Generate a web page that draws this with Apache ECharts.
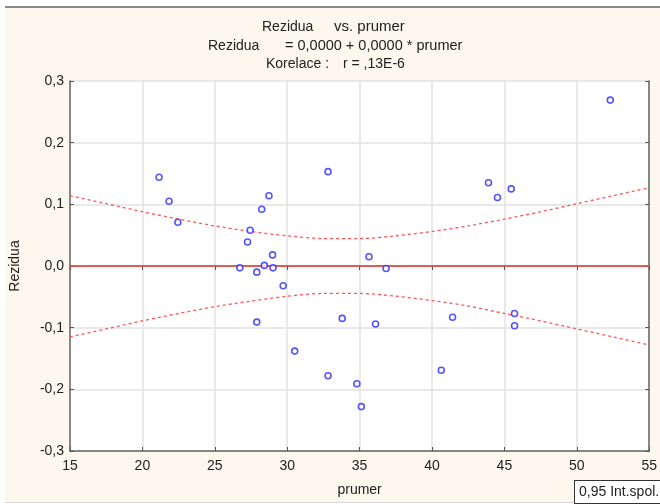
<!DOCTYPE html>
<html><head><meta charset="utf-8">
<script src="https://cdn.jsdelivr.net/npm/echarts@6/dist/echarts.min.js"></script>
<style>html,body{margin:0;padding:0;background:#fff}#c{width:660px;height:504px}</style>
</head><body><div id="c"></div>
<script>
// Scatter points (prumer, Rezidua)
const prumer = [21.15, 21.84, 22.45, 26.73, 27.26, 27.44, 27.90, 27.90, 28.24, 28.42, 28.74, 28.99, 29.02, 29.72, 30.52,
  32.82, 35.65, 36.83, 33.80, 36.10, 32.82, 34.81, 35.12, 40.64, 41.42, 43.90, 44.52, 45.47, 45.70, 45.70, 52.31];
const rezidua = [0.144, 0.105, 0.071, -0.003, 0.039, 0.058, -0.010, -0.091, 0.092, 0.001, 0.114, 0.018, -0.003, -0.032, -0.138,
  0.153, 0.015, -0.004, -0.085, -0.094, -0.178, -0.191, -0.228, -0.169, -0.083, 0.135, 0.111, 0.125, -0.077, -0.097, 0.269];
// Regression line: Rezidua = 0,0000 + 0,0000 * prumer
const lineX = [15, 55];
const lineY = [0.0, 0.0];
// 0,95 confidence band
const bandX = [15, 17.5, 20, 22.5, 25, 27.5, 30, 32.5, 35, 37.5, 40, 42.5, 45, 47.5, 50, 52.5, 55];
const bandUpper = [0.114, 0.101, 0.088, 0.076, 0.065, 0.056, 0.049, 0.0445, 0.0445, 0.049, 0.056, 0.065, 0.076, 0.088, 0.101, 0.114, 0.127];
const bandLower = [-0.115, -0.102, -0.089, -0.077, -0.066, -0.057, -0.049, -0.0445, -0.0445, -0.049, -0.056, -0.065, -0.077, -0.089, -0.102, -0.115, -0.128];
// Axis ticks
const xTicks = [15, 20, 25, 30, 35, 40, 45, 50, 55];
const yTicks = [-0.3, -0.2, -0.1, 0.0, 0.1, 0.2, 0.3];

const FONT = '"Liberation Sans", Arial, sans-serif';
const fmtY = v => v.toFixed(1).replace('.', ',');
const zip = (a, b) => a.map((v, i) => [v, b[i]]);

const chart = echarts.init(document.getElementById('c'), null, {renderer: 'canvas'});
const txt = (x, y, s, size) => ({type: 'text', x: x, y: y, z: 10,
  style: {text: s, font: (size || 14) + 'px ' + FONT, fill: '#222', align: 'left', verticalAlign: 'middle'}});

chart.setOption({
  backgroundColor: '#fff',
  animation: false,
  grid: {left: 66, right: 9, top: 81, bottom: 53, show: true, backgroundColor: '#fff', borderWidth: 0},
  graphic: [
    {type: 'rect', shape: {x: 5, y: 7, width: 660, height: 495}, z: -10, silent: true,
      style: {fill: '#fdf8ee', stroke: null}},
    {type: 'rect', shape: {x: 5, y: 6, width: 660, height: 2}, z: -9, silent: true, style: {fill: '#8a8a8a'}},
    {type: 'rect', shape: {x: 5, y: 502, width: 660, height: 1}, z: -9, silent: true, style: {fill: '#d8d8d8'}},
    txt(262, 27, 'Rezidua'), txt(334, 27, 'vs. prumer', 15),
    txt(208, 46, 'Rezidua'), txt(285, 46, '= 0,0000 + 0,0000 * prumer', 14.5),
    txt(266, 64, 'Korelace :'), txt(343, 64, 'r = ,13E-6'),
    {type: 'text', x: 575, y: 481, z: 10,
      style: {text: '0,95 Int.spol.', font: '14px ' + FONT, fill: '#222',
        backgroundColor: '#fff', borderColor: '#333', borderWidth: 1, padding: [4, 5, 4, 4]}}
  ],
  xAxis: [{
    type: 'value', min: 15, max: 55, interval: 5,
    name: 'prumer', nameLocation: 'middle', nameGap: 32,
    nameTextStyle: {fontFamily: FONT, fontSize: 14, color: '#222'},
    axisLine: {show: true, onZero: false, lineStyle: {color: '#666', width: 1.5}},
    axisTick: {show: true, inside: true, length: 4, lineStyle: {color: '#555'}},
    axisLabel: {fontFamily: FONT, fontSize: 14, color: '#222', margin: 8,
      customValues: xTicks},
    splitLine: {show: true, lineStyle: {color: '#e2e2e2', width: 1.5}}
  }, {
    type: 'value', min: 15, max: 55, interval: 5, position: 'top',
    axisLine: {show: true, lineStyle: {color: '#666', width: 1.5}},
    axisTick: {show: true, inside: true, length: 4, lineStyle: {color: '#555'}},
    axisLabel: {show: false}, splitLine: {show: false}
  }],
  yAxis: [{
    type: 'value', min: -0.3, max: 0.3, interval: 0.1,
    name: 'Rezidua', nameLocation: 'middle', nameGap: 48, nameRotate: 90,
    nameTextStyle: {fontFamily: FONT, fontSize: 14, color: '#222'},
    axisLine: {show: true, onZero: false, lineStyle: {color: '#666', width: 1.5}},
    axisTick: {show: true, inside: true, length: 4, lineStyle: {color: '#555'}},
    axisLabel: {fontFamily: FONT, fontSize: 14, color: '#222', margin: 6,
      customValues: yTicks, formatter: fmtY},
    splitLine: {show: true, lineStyle: {color: '#e2e2e2', width: 1.5}}
  }, {
    type: 'value', min: -0.3, max: 0.3, interval: 0.1, position: 'right',
    axisLine: {show: true, lineStyle: {color: '#666', width: 1.5}},
    axisTick: {show: true, inside: true, length: 4, lineStyle: {color: '#555'}},
    axisLabel: {show: false}, splitLine: {show: false}
  }],
  series: [
    {type: 'line', data: zip(lineX, lineY), symbol: 'none', z: 3,
      lineStyle: {color: '#ff4d4d', width: 1.5}},
    {type: 'line', data: zip(bandX, bandUpper), symbol: 'none', smooth: 0.3, z: 3,
      lineStyle: {color: '#ff5555', width: 1.3, type: [3, 3]}},
    {type: 'line', data: zip(bandX, bandLower), symbol: 'none', smooth: 0.3, z: 3,
      lineStyle: {color: '#ff5555', width: 1.3, type: [3, 3]}},
    {type: 'scatter', data: zip(prumer, rezidua), symbol: 'circle', symbolSize: 6, z: 5,
      itemStyle: {color: '#fff', borderColor: '#2a2aff', borderWidth: 1.6}}
  ]
});
</script></body></html>
